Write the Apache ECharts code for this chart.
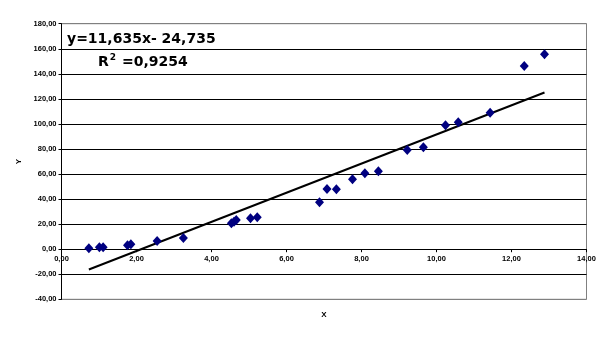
<!DOCTYPE html>
<html><head><meta charset="utf-8">
<script src="https://cdn.jsdelivr.net/npm/echarts@6/dist/echarts.min.js"></script>
<style>html,body{margin:0;padding:0;background:#fff}#c{width:613px;height:339px}</style>
</head><body><div id="c"></div>
<script>
var xValues = [0.73,1.01,1.11,1.76,1.85,2.55,3.25,4.53,4.60,4.66,5.04,5.22,6.88,7.08,7.33,7.76,8.09,8.45,9.22,9.65,10.24,10.58,11.43,12.34,12.88];
var yValues = [0.7,1.5,1.5,3.1,3.9,6.5,8.9,20.7,22.0,23.3,24.7,25.5,37.4,48.1,47.8,55.8,60.6,62.2,79.2,81.3,98.9,101.3,109.0,146.2,155.6];
var slope = 11.635, intercept = -24.735;
var eqText = 'y=11,635x- 24,735';
var r2Text = 'R{sup|2} =0,9254';
var yMin = -40, yMax = 180;

var pts = xValues.map(function(x,i){return [x,yValues[i]];});
var xmin = Math.min.apply(null,xValues), xmax = Math.max.apply(null,xValues);
var trend = [[xmin, slope*xmin+intercept],[xmax, slope*xmax+intercept]];

function fmt(v){return v.toFixed(2).replace('.',',');}
var splitColors = ['#808080','#000','#000','#000','#000','#000','#000','#000','#000','#000','#000','#808080'];
var lblFont = {fontFamily:'Liberation Sans', fontSize:7.5, fontWeight:'bold', color:'#000'};

var gridTop = 23.7, gridBottom = 39.7, H = 339;
var gridH = H - gridTop - gridBottom;
var zeroOffset = -gridH * (0 - yMin) / (yMax - yMin);

var chart = echarts.init(document.getElementById('c'));
chart.setOption({
  animation:false,
  grid:{left:61.5, right:26.5, top:gridTop, bottom:gridBottom, show:true, borderColor:'#808080', borderWidth:1, outerBoundsMode:'none', containLabel:false},
  xAxis:{type:'value', min:0, max:14, interval:2, offset:zeroOffset,
    name:'X', nameLocation:'middle', nameGap:62,
    nameTextStyle:{fontFamily:'Liberation Sans', fontSize:8, fontWeight:'bold', color:'#000'},
    axisLine:{onZero:false, lineStyle:{color:'#000', width:1}},
    axisTick:{show:true, length:3, lineStyle:{color:'#000'}},
    axisLabel:Object.assign({formatter:fmt, margin:6}, lblFont),
    splitLine:{show:false}},
  yAxis:{type:'value', min:yMin, max:yMax, interval:20,
    name:'Y', nameLocation:'middle', nameGap:34,
    nameTextStyle:{fontFamily:'Liberation Sans', fontSize:8, fontWeight:'bold', color:'#000'},
    axisLine:{show:true, onZero:false, lineStyle:{color:'#000', width:1}},
    axisTick:{show:true, length:3, lineStyle:{color:'#000'}},
    axisLabel:Object.assign({formatter:fmt, margin:5}, lblFont),
    splitLine:{show:true, lineStyle:{color:splitColors, width:1}}},
  series:[
    {type:'line', data:trend, symbol:'none', lineStyle:{color:'#000', width:2}, z:3},
    {type:'scatter', data:pts, symbol:'diamond', symbolSize:[9,10], itemStyle:{color:'#000080', opacity:1}, z:4}
  ],
  graphic:[
    {type:'text', left:67, top:32, style:{text:eqText, fontFamily:'DejaVu Sans', fontSize:14, fontWeight:'bold', fill:'#000'}},
    {type:'text', left:98, top:53, style:{text:r2Text, fontFamily:'DejaVu Sans', fontSize:14, fontWeight:'bold', fill:'#000',
      rich:{sup:{fontFamily:'DejaVu Sans', fontSize:9, fontWeight:'bold', verticalAlign:'top', padding:[0,1,10,1]}}}}
  ]
});
</script></body></html>
